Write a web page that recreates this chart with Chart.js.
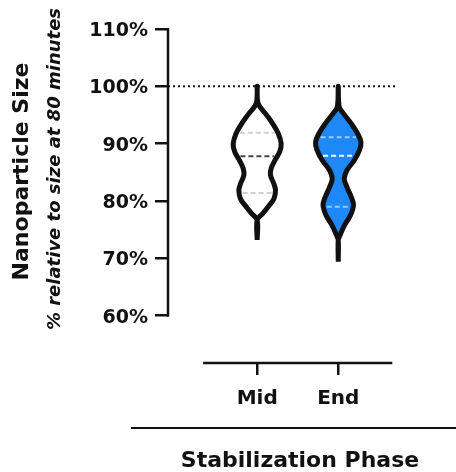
<!DOCTYPE html>
<html><head><meta charset="utf-8">
<script src="https://cdn.jsdelivr.net/npm/chart.js@4"></script>
<style>html,body{margin:0;padding:0;background:#fff}</style>
</head><body>
<canvas id="c" width="456" height="472"></canvas>
<script>
// ---- data ----
const categories = ['Mid', 'End'];
const yTickValues = [60, 70, 80, 90, 100, 110];
const referenceLevel = 100;

// violin outlines: size level (%) and half-width of density (x-axis units)
const midLevels     = [73.2, 76.7, 77.8, 79.0, 80.4, 81.9, 83.0, 84.5, 85.7, 87.1, 88.6, 90.0, 91.8, 93.5, 95.2, 97.0, 100.0];
const midHalfWidths = [0.000, 0.000, 0.068, 0.136, 0.207, 0.226, 0.206, 0.164, 0.173, 0.219, 0.278, 0.296, 0.259, 0.191, 0.105, 0.012, 0.000];
const endLevels     = [69.4, 73.2, 74.0, 75.8, 77.5, 79.3, 80.7, 82.5, 83.9, 85.4, 87.1, 88.9, 90.3, 91.8, 93.5, 95.2, 96.4, 100.0];
const endHalfWidths = [0.000, 0.000, 0.021, 0.078, 0.151, 0.188, 0.160, 0.105, 0.074, 0.109, 0.198, 0.263, 0.280, 0.238, 0.160, 0.068, 0.012, 0.000];

// lower quartile, median, upper quartile
const midQuartiles = [81.4, 87.8, 91.9];
const endQuartiles = [79.0, 87.9, 91.1];

const xTitle = 'Stabilization Phase';
const yTitle = 'Nanoparticle Size';
const ySubtitle = '% relative to size at 80 minutes';

// ---- styling ----
const FONT = '"DejaVu Sans", "Liberation Sans", Arial, sans-serif';
const INK = '#111';
const X_MIN = -0.1, X_MAX = 2.7;
const Y_MIN = 51.74, Y_MAX = 110;

function outline(pos, levels, hw) {
  const right = levels.map((y, i) => ({x: pos + hw[i], y}));
  const left = levels.map((y, i) => ({x: pos - hw[i], y})).reverse();
  return right.concat(left.slice(1));
}
function hwAt(levels, hw, v) {
  for (let i = 0; i < levels.length - 1; i++) {
    if (v >= levels[i] && v <= levels[i + 1]) {
      const t = (v - levels[i]) / (levels[i + 1] - levels[i]);
      return hw[i] + t * (hw[i + 1] - hw[i]);
    }
  }
  return 0;
}
function quartileSets(pos, levels, hw, q, colors) {
  return q.map((v, i) => {
    const w = Math.max(hwAt(levels, hw, v) - 0.04, 0);
    return {
      data: [{x: pos - w, y: v}, {x: pos + w, y: v}],
      showLine: true, borderColor: colors[i], borderWidth: 2, borderDash: [5, 3],
      pointRadius: 0, fill: false, order: 1
    };
  });
}

const violins = [
  {levels: midLevels, hw: midHalfWidths, q: midQuartiles, fill: '#ffffff', qColors: ['#d0d0d0', '#444444', '#d0d0d0']},
  {levels: endLevels, hw: endHalfWidths, q: endQuartiles, fill: '#1e88f8', qColors: ['rgba(255,255,255,0.55)', 'rgba(255,255,255,0.95)', 'rgba(255,255,255,0.55)']}
];

const datasets = [{
  data: [{x: X_MIN, y: referenceLevel}, {x: X_MAX, y: referenceLevel}],
  showLine: true, borderColor: INK, borderWidth: 2, borderDash: [2, 3],
  pointRadius: 0, fill: false, order: 3
}];
violins.forEach((v, i) => {
  const pos = i + 1;
  datasets.push({
    data: outline(pos, v.levels, v.hw),
    showLine: true, fill: 'shape', backgroundColor: v.fill,
    borderColor: INK, borderWidth: 5, tension: 0.35, pointRadius: 0,
    borderJoinStyle: 'round', order: 2
  });
  quartileSets(pos, v.levels, v.hw, v.q, v.qColors).forEach(d => datasets.push(d));
});

const decor = {
  id: 'decor',
  afterDraw(chart) {
    const {ctx, chartArea, scales: {x, y}} = chart;
    ctx.save();
    ctx.strokeStyle = INK;
    ctx.lineWidth = 2.5;
    // y axis line (60% .. 110%)
    ctx.beginPath();
    ctx.moveTo(chartArea.left, y.getPixelForValue(yTickValues[yTickValues.length - 1]) - 1);
    ctx.lineTo(chartArea.left, y.getPixelForValue(yTickValues[0]) + 1);
    ctx.stroke();
    // x axis line (offset, Prism style)
    ctx.beginPath();
    ctx.moveTo(x.getPixelForValue(1 - 0.667), chartArea.bottom);
    ctx.lineTo(x.getPixelForValue(categories.length + 0.667), chartArea.bottom);
    ctx.stroke();
    // grouping line above x title
    ctx.lineWidth = 2;
    ctx.beginPath();
    ctx.moveTo(131, 428);
    ctx.lineTo(456, 428);
    ctx.stroke();
    // x title
    ctx.fillStyle = INK;
    ctx.textAlign = 'center';
    ctx.textBaseline = 'alphabetic';
    ctx.font = 'bold 22px ' + FONT;
    ctx.fillText(xTitle, 300, 466.5);
    // y title
    ctx.save();
    ctx.translate(28, 171.5);
    ctx.rotate(-Math.PI / 2);
    ctx.font = 'bold 22px ' + FONT;
    ctx.fillText(yTitle, 0, 0);
    ctx.restore();
    ctx.save();
    ctx.translate(60, 169);
    ctx.rotate(-Math.PI / 2);
    ctx.font = 'italic bold 18px ' + FONT;
    ctx.fillText(ySubtitle, 0, 0);
    ctx.restore();
    ctx.restore();
  }
};

new Chart(document.getElementById('c'), {
  type: 'scatter',
  data: {datasets},
  options: {
    responsive: false,
    animation: false,
    devicePixelRatio: 1,
    layout: {padding: {left: 0, top: 29, right: 61, bottom: 0}},
    plugins: {legend: {display: false}, tooltip: {enabled: false}},
    scales: {
      x: {
        type: 'linear', min: X_MIN, max: X_MAX,
        afterBuildTicks: s => { s.ticks = categories.map((c, i) => ({value: i + 1})); },
        afterFit: s => { s.height = 109; },
        border: {display: false},
        grid: {drawOnChartArea: false, drawTicks: true, tickLength: 12, color: INK, lineWidth: 2.5},
        ticks: {
          callback: (v) => categories[Math.round(v) - 1] || '',
          font: {family: FONT, size: 20, weight: 'bold'}, color: INK, padding: 12,
          maxRotation: 0, autoSkip: false
        }
      },
      y: {
        type: 'linear', min: Y_MIN, max: Y_MAX,
        afterBuildTicks: s => { s.ticks = yTickValues.map(v => ({value: v})); },
        afterFit: s => { s.width = 168; },
        border: {display: false},
        grid: {drawOnChartArea: false, drawTicks: true, tickLength: 13, color: INK, lineWidth: 2.5},
        ticks: {
          callback: v => v + '%',
          font: {family: FONT, size: 19, weight: 'bold'}, color: INK, padding: 7, labelOffset: 2
        }
      }
    }
  },
  plugins: [decor]
});
</script>
</body></html>
